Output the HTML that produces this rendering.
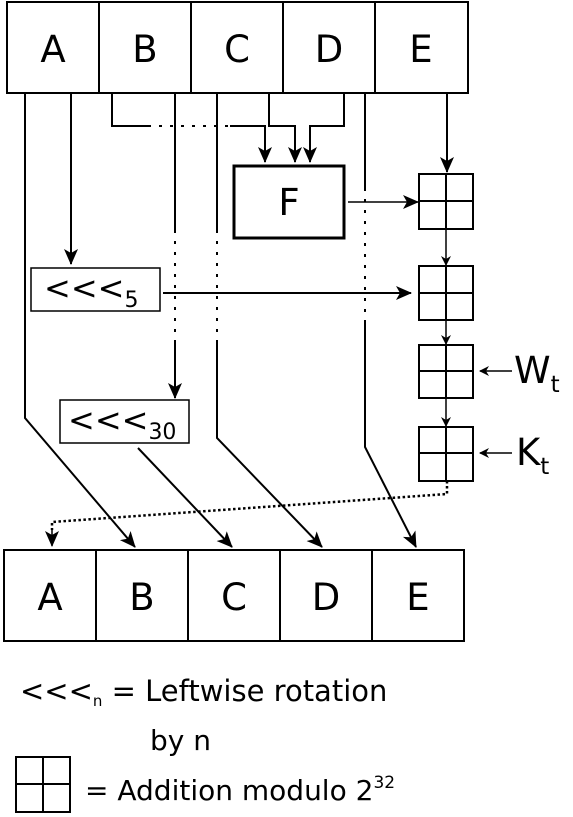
<!DOCTYPE html>
<html><head><meta charset="utf-8"><style>html,body{margin:0;padding:0;background:#fff}svg{display:block}</style></head>
<body>
<svg width="573" height="817" viewBox="0 0 573 817" xmlns="http://www.w3.org/2000/svg" font-family="DejaVu Sans, Liberation Sans, sans-serif">
<defs>
<marker id="ar" markerWidth="10" markerHeight="10" refX="9" refY="5" orient="auto" markerUnits="userSpaceOnUse" viewBox="0 0 10 10"><path d="M0,0 L10,5 L0,10 L3,5 z" fill="#000"/></marker>
<marker id="arB" markerWidth="16" markerHeight="16" refX="15" refY="8" orient="auto" markerUnits="userSpaceOnUse" viewBox="0 0 16 16"><path d="M0,1 L16,8 L0,15 L4,8 z" fill="#000"/></marker>
</defs>
<g fill="none" stroke="#000" stroke-width="2">
<rect x="7" y="2" width="461" height="91"/>
<line x1="99" y1="2" x2="99" y2="93"/><line x1="191" y1="2" x2="191" y2="93"/><line x1="283" y1="2" x2="283" y2="93"/><line x1="375" y1="2" x2="375" y2="93"/>
<rect x="4" y="550" width="460" height="91"/>
<line x1="96" y1="550" x2="96" y2="641"/><line x1="188" y1="550" x2="188" y2="641"/><line x1="280" y1="550" x2="280" y2="641"/><line x1="372" y1="550" x2="372" y2="641"/>
<polyline points="25,93 25,418 135,547" marker-end="url(#arB)"/>
<line x1="71" y1="93" x2="71" y2="264" marker-end="url(#arB)"/>
<polyline points="112,93 112,126 148,126"/>
<line x1="148" y1="126" x2="230" y2="126" stroke-dasharray="3,8"/>
<polyline points="230,126 265,126 265,162" marker-end="url(#arB)"/>
<line x1="175" y1="93" x2="175" y2="230"/>
<line x1="175" y1="230" x2="175" y2="340" stroke-dasharray="3,8"/>
<line x1="175" y1="340" x2="175" y2="398" marker-end="url(#arB)"/>
<line x1="217" y1="93" x2="217" y2="230"/>
<line x1="217" y1="230" x2="217" y2="340" stroke-dasharray="3,8"/>
<polyline points="217,340 217,438 322,547" marker-end="url(#arB)"/>
<polyline points="269,93 269,126 295,126 295,162" marker-end="url(#arB)"/>
<polyline points="344,93 344,126 310,126 310,162" marker-end="url(#arB)"/>
<rect x="234" y="166" width="110" height="72" stroke-width="3"/>
<line x1="365" y1="93" x2="365" y2="188"/>
<line x1="365" y1="188" x2="365" y2="320" stroke-dasharray="3,8"/>
<polyline points="365,320 365,447 416,547" marker-end="url(#arB)"/>
<line x1="447" y1="93" x2="447" y2="172" marker-end="url(#arB)"/>
<rect x="419" y="174" width="54" height="55"/><line x1="446" y1="174" x2="446" y2="229"/><line x1="419" y1="201" x2="473" y2="201"/>
<rect x="419" y="266" width="54" height="54"/><line x1="446" y1="266" x2="446" y2="320"/><line x1="419" y1="293" x2="473" y2="293"/>
<rect x="419" y="345" width="54" height="53"/><line x1="446" y1="345" x2="446" y2="398"/><line x1="419" y1="371" x2="473" y2="371"/>
<rect x="419" y="427" width="54" height="54"/><line x1="446" y1="427" x2="446" y2="481"/><line x1="419" y1="453" x2="473" y2="453"/>
<line x1="446" y1="229" x2="446" y2="265" stroke-width="1.5" marker-end="url(#ar)"/>
<line x1="446" y1="320" x2="446" y2="344" stroke-width="1.5" marker-end="url(#ar)"/>
<line x1="446" y1="398" x2="446" y2="426" stroke-width="1.5" marker-end="url(#ar)"/>
<line x1="348" y1="202" x2="418" y2="202" stroke-width="1.5" marker-end="url(#arB)"/>
<rect x="31" y="268" width="129" height="43" stroke-width="1.5"/>
<line x1="163" y1="293" x2="411" y2="293" marker-end="url(#arB)"/>
<rect x="60" y="400" width="129" height="43" stroke-width="1.5"/>
<line x1="138" y1="448" x2="232" y2="547" marker-end="url(#arB)"/>
<line x1="512" y1="371" x2="480" y2="371" stroke-width="1.5" marker-end="url(#ar)"/>
<line x1="512" y1="453" x2="480" y2="453" stroke-width="1.5" marker-end="url(#ar)"/>
<polyline points="447,481 447,494 52,522 52,530" stroke-dasharray="2.5,2.5" stroke-width="2.5"/>
<line x1="52" y1="528" x2="52" y2="546" stroke-width="1.5" marker-end="url(#arB)"/>
<rect x="16" y="757" width="54" height="55"/><line x1="43" y1="757" x2="43" y2="812"/><line x1="16" y1="784" x2="70" y2="784"/>
</g>
<g font-size="37" text-anchor="middle" fill="#000">
<text x="53" y="62">A</text><text x="145" y="62">B</text><text x="237" y="62">C</text><text x="329" y="62">D</text><text x="421" y="62">E</text>
<text x="50" y="610">A</text><text x="142" y="610">B</text><text x="234" y="610">C</text><text x="326" y="610">D</text><text x="418" y="610">E</text>
<text x="289" y="215">F</text>
</g>
<g fill="#000">
<text x="44" y="299" font-size="32">&lt;&lt;&lt;<tspan font-size="22" dy="8">5</tspan></text>
<text x="68" y="431" font-size="32">&lt;&lt;&lt;<tspan font-size="22" dy="8">30</tspan></text>
<text x="514" y="383" font-size="37">W<tspan font-size="23" dy="9">t</tspan></text>
<text x="516" y="465" font-size="37">K<tspan font-size="23" dy="9">t</tspan></text>
<text x="20" y="701" font-size="29">&lt;&lt;&lt;<tspan font-size="15" dy="5">n</tspan><tspan dy="-5"> = Leftwise rotation</tspan></text>
<text x="150" y="750" font-size="28">by n</text>
<text x="85" y="800" font-size="28">= Addition modulo 2<tspan font-size="17" dy="-12">32</tspan></text>
</g>
</svg>
</body></html>
